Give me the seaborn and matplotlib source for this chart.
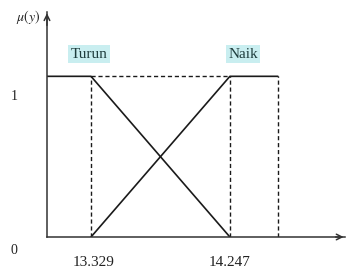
import matplotlib
matplotlib.use("Agg")
import matplotlib.pyplot as plt
import seaborn as sns
import pandas as pd

sns.set_style("white")
plt.rcParams['font.family'] = ['Liberation Serif', 'DejaVu Serif']
plt.rcParams['mathtext.fontset'] = 'stix'

# data
x_low, x_high = 13.329, 14.247
x_left, x_right, x_end = 13.038, 14.564, 15.007
turun_x = [x_left, x_low, x_high]
turun_y = [1, 1, 0]
naik_x = [x_low, x_high, x_right]
naik_y = [0, 1, 1]
tick_labels = ["13.329", "14.247"]
set_names = ["Turun", "Naik"]

fig = plt.figure(figsize=(3.48, 2.71), dpi=100)
ax = fig.add_axes([0.135, 0.1255, 0.856, 0.830])

df = pd.concat([
    pd.DataFrame({"x": turun_x, "y": turun_y, "s": "Turun"}),
    pd.DataFrame({"x": naik_x, "y": naik_y, "s": "Naik"}),
])
sns.lineplot(data=df, x="x", y="y", units="s", estimator=None, sort=False,
             color="#1a1a1a", lw=1.2, ax=ax, legend=False)

# dashed guides
dash = dict(color="#1a1a1a", lw=1.0, ls=(0, (3, 2)))
ax.plot([x_low, x_high], [1, 1], **dash)
for xv in [x_low, x_high, x_right]:
    ax.plot([xv, xv], [0, 1], **dash)

ax.set_xlim(x_left, x_end)
ax.set_ylim(0, 1.40)
for s in ["top", "right"]:
    ax.spines[s].set_visible(False)
for s in ["left", "bottom"]:
    ax.spines[s].set_color("#333333")
    ax.spines[s].set_linewidth(1.1)
ax.set_xticks([])
ax.set_yticks([])
ax.set_xlabel("")
ax.set_ylabel("")

# arrows
ax.annotate("", xy=(x_left, 1.41), xytext=(x_left, 1.30),
            arrowprops=dict(arrowstyle="->", color="#333333", lw=1.1),
            annotation_clip=False)
ax.annotate("", xy=(x_end + 0.01, 0), xytext=(x_end - 0.08, 0),
            arrowprops=dict(arrowstyle="->", color="#333333", lw=1.1),
            annotation_clip=False)

# texts in figure pixel coords
def ftext(px, py, s, **kw):
    fig.text(px / 348, 1 - py / 271, s, ha="center", va="center", **kw)

ftext(28, 17, r"$\mu(y)$", fontsize=10, color="#222222")
ftext(14, 97, "1", fontsize=10, color="#222222")
ftext(14, 250, "0", fontsize=10, color="#222222")
ftext(94, 263, tick_labels[0], fontsize=11, color="#222222")
ftext(230, 263, tick_labels[1], fontsize=11, color="#222222")

box = dict(boxstyle="square,pad=0.15", fc="#c9eef0", ec="none")
ftext(89, 54, set_names[0], fontsize=11, color="#1f3d3d", bbox=box)
ftext(243, 54, set_names[1], fontsize=11, color="#1f3d3d", bbox=box)

fig.savefig("out.png", dpi=100)
